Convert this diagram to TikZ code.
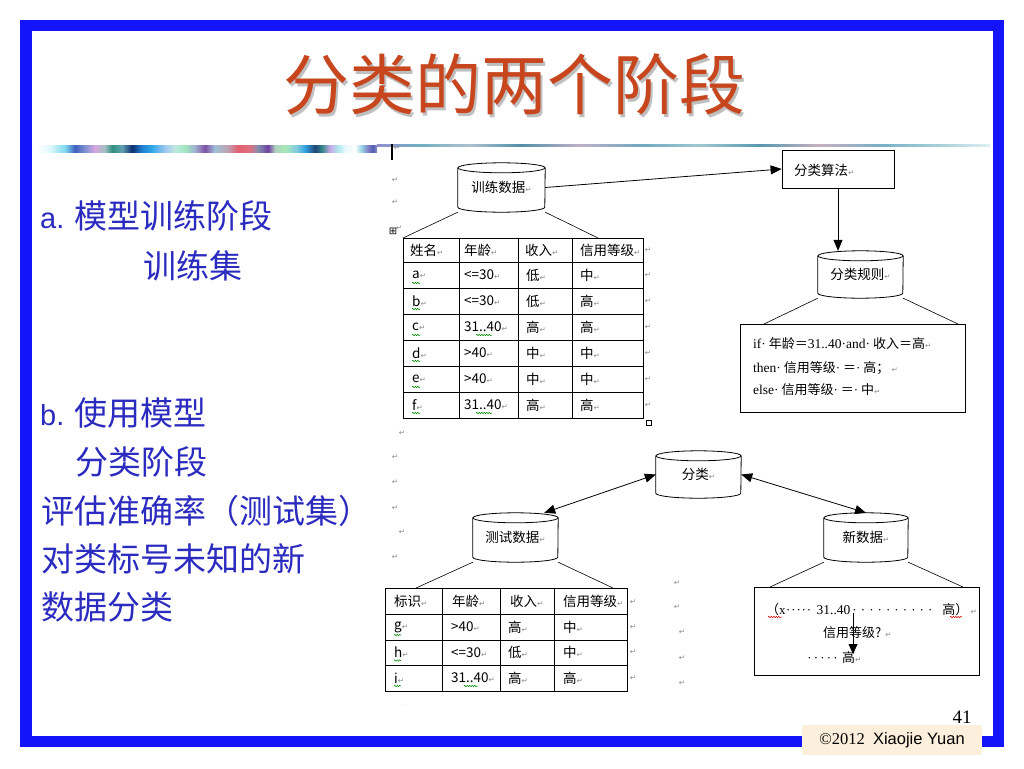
\documentclass[tikz,border=0pt]{standalone}
\usepackage{fontspec}
\setmainfont{Liberation Serif}
\newfontfamily\cjk{Noto Sans CJK SC}
\newfontfamily\dejavu{DejaVu Sans}
\newfontfamily\arial{Liberation Sans}
\usetikzlibrary{arrows.meta,decorations.pathmorphing}
\definecolor{frameblue}{HTML}{1414FA}
\definecolor{titlered}{HTML}{C8461E}
\definecolor{txtblue}{HTML}{2B2BC0}
\definecolor{pmgray}{HTML}{8C8C8C}
\definecolor{footbg}{HTML}{FCEFDB}
\newcommand\pmk{{\dejavu\fontsize{7.5}{7.5}\selectfont\textcolor{pmgray}{↵}}}
\newcommand\sdots[2]{\makebox[#1pt]{\rmfamily\leaders\hbox to #2pt{\hss·\hss}\hfill}}
\newcommand\cylnode[6]{%
  \node[dtext, minimum width=#4, minimum height=#5] (#1) at (#2,#3) {\raisebox{-3pt}{#6}};
  \draw[line width=0.8pt] ([yshift=-5pt]#1.north) ellipse [x radius=#4/2, y radius=5];
  \draw[line width=0.8pt] ([yshift=-5pt]#1.north west) -- ([yshift=5pt]#1.south west)
     arc [start angle=180, end angle=0, x radius=#4/2, y radius=5] -- ([yshift=-5pt]#1.north east);
}
\tikzset{
  dtext/.style={font=\cjk\fontsize{13.5}{13.5}\selectfont, inner sep=0pt},
  ttext/.style={font=\cjk\fontsize{13}{13}\selectfont, inner sep=0pt, anchor=west},
  boxd/.style={draw, line width=0.8pt, inner sep=0pt},
  conn/.style={line width=0.6pt},
  arr/.style={line width=0.8pt, -{Triangle[length=11pt,width=9pt]}},
  darr/.style={line width=0.8pt, {Triangle[length=11pt,width=9pt]}-{Triangle[length=11pt,width=9pt]}},
  lefttxt/.style={text=txtblue, font=\cjk\fontsize{33}{33}\selectfont, inner sep=0pt, anchor=west},
  pmark/.style={font=\dejavu\fontsize{7.5}{7.5}\selectfont, text=pmgray, inner sep=0pt},
  spellg/.style={green!55!black, line width=0.5pt, decorate, decoration={snake, amplitude=0.8pt, segment length=2.5pt}},
  spellr/.style={red!80!black, line width=0.5pt, decorate, decoration={snake, amplitude=0.8pt, segment length=2.5pt}},
}
\begin{document}
\begin{tikzpicture}[x=1pt,y=-1pt]
\useasboundingbox (0,0) rectangle (1024,768);
\fill[white] (0,0) rectangle (1024,768);

% decorative stripe
\foreach \x/\c [remember=\x as \px (initially 37), remember=\c as \pc (initially FFFFFF)] in
 {50/E0F8FC, 65/7FD8F0, 75/4060C0, 85/8090D0, 95/D8A8E0, 105/A0C0C0, 112/309080, 122/60A0B0,
  132/103070, 142/2080D0, 152/30A8E8, 165/A0C8F0, 175/C0E8E0, 185/A0E8C0, 195/A0B0D0, 205/8050A8,
  215/A0C0D8, 228/C0A0B0, 238/E06070, 250/E07080, 258/8090B0, 268/7040A0, 275/B0D0C0, 285/A8E8B8,
  297/80C8E0, 305/30A0E0, 315/204878, 322/308888, 330/C8A8E8, 338/B0E8F0, 345/E8F8FC, 355/FFFFFF,
  362/90D0E0, 368/8080C8, 373/5060B0, 377/9090D0}
{
  \definecolor{ca}{HTML}{\pc}\definecolor{cb}{HTML}{\c}
  \shade[left color=ca, right color=cb] (\px,145) rectangle (\x,152);
}
\foreach \x/\c [remember=\x as \px (initially 377), remember=\c as \pc (initially 9090D0)] in
 {420/70B0C0, 470/B0C0D0, 520/5090A8, 580/C0B0C8, 640/70A8C0, 700/A0C8D0, 760/5898B0, 820/C8B0C0,
  880/78B0C8, 940/A8D0D8, 990/E0F0F4}
{
  \definecolor{ca}{HTML}{\pc}\definecolor{cb}{HTML}{\c}
  \shade[left color=ca, right color=cb] (\px,144.5) rectangle (\x,146.5);
}

% blue frame
\draw[frameblue, line width=11.5pt] (25.75,25.75) rectangle (998.25,741.25);

% title (with its shadow in the same node)
\node[text=titlered, font=\cjk\fontsize{66}{66}\selectfont, inner sep=0pt] (title) at (514,86)
  {\rlap{\hspace{2.5pt}\raisebox{-2.5pt}{\textcolor{black!25}{分类的两个阶段}}}分类的两个阶段};

% left text
\node[lefttxt] (la) at (40,216) {{\arial\fontsize{29}{29}\selectfont a.} 模型训练阶段};
\node[lefttxt] (la2) at (143,266) {训练集};
\node[lefttxt] (lb) at (40,413) {{\arial\fontsize{29}{29}\selectfont b.} 使用模型};
\node[lefttxt] (lb2) at (75,462) {分类阶段};
\node[lefttxt] (lb3) at (41,511) {评估准确率（测试集）};
\node[lefttxt] (lb4) at (41,559) {对类标号未知的新};
\node[lefttxt] (lb5) at (41,607) {数据分类};

% ---------- diagram ----------
\draw[line width=1.6pt] (392,144) -- (392,160);
\foreach \x/\y [count=\k] in {397/148, 395/180, 395/202, 402/433, 395/457, 395/482, 395/508, 402/532, 395/557,
  677/583, 677/607, 682/632, 682/658, 682/683}
  \node[pmark] (pm\k) at (\x,\y) {↵};
\node[font=\dejavu\fontsize{10}{10}\selectfont, inner sep=0pt] (tabsym) at (393,231) {⊞};
\node[pmark] (pmsym) at (399,228) {↵};
\draw[line width=0.6pt] (646,420) rectangle (651,425);

% training data
\cylnode{trd}{501.5}{187.5}{87}{49}{训练数据\pmk}
\node[boxd, minimum width=112, minimum height=38] (alg) at (838,169) {};
\node[dtext, anchor=west] (algt) at (794,170) {分类算法\pmk};
\draw[arr] (trd.east) -- (alg.west);
\cylnode{rule}{860.5}{274.5}{85}{47}{分类规则\pmk}
\draw[arr] (alg.south) -- (alg.south |- rule.north);

% rule box
\node[boxd, minimum width=225, minimum height=88] (rbox) at (852.5,368) {};
\coordinate (rb1) at (764,324);
\coordinate (rb2) at (958,324);
\draw[conn] (rule.south west) -- (rb1);
\draw[conn] (rule.south east) -- (rb2);
\node[ttext] (rl1) at (753,344) {{\rmfamily\fontsize{13.5}{13.5}\selectfont if·} 年龄＝{\rmfamily\fontsize{13.5}{13.5}\selectfont 31..40·and·} 收入＝高\pmk};
\node[ttext] (rl2) at (753,368.5) {{\rmfamily\fontsize{13.5}{13.5}\selectfont then·} 信用等级{\rmfamily ·} ＝{\rmfamily ·} 高；\,\pmk};
\node[ttext] (rl3) at (753,390) {{\rmfamily\fontsize{13.5}{13.5}\selectfont else·} 信用等级{\rmfamily ·} ＝{\rmfamily ·} 中\pmk};

% table 1
\node[boxd, minimum width=240, minimum height=180] (tab1) at (523,328) {};
\coordinate (t1l) at (403,238);
\coordinate (t1r) at (598,238);
\draw[conn] (trd.south west) -- (t1l);
\draw[conn] (trd.south east) -- (t1r);
\foreach \yy in {262,288,...,392} \draw[line width=0.8pt] (403,\yy) -- (643,\yy);
\foreach \xx in {459,518,572} \draw[line width=0.8pt] (\xx,238) -- (\xx,418);
\foreach \t/\x [count=\k] in {姓名/410, 年龄/464, 收入/525, 信用等级/580}
  \node[dtext, anchor=west] (h1-\k) at (\x,250) {\t\pmk};
\node[pmark] (h1m) at (648,250) {↵};
\foreach \n/\ag/\inc/\cr [count=\i] in {a/{<=30}/低/中, b/{<=30}/低/高, c/{31..40}/高/高, d/{>40}/中/中, e/{>40}/中/中, f/{31..40}/高/高}
{
  \pgfmathsetmacro\yy{275+26*(\i-1)}
  \node[dtext, anchor=west] (r1-\i-1) at (412,\yy) {\n\pmk};
  \node[dtext, anchor=west] (r1-\i-2) at (464,\yy) {\ag\pmk};
  \node[dtext, anchor=west] (r1-\i-3) at (526,\yy) {\inc\pmk};
  \node[dtext, anchor=west] (r1-\i-4) at (580,\yy) {\cr\pmk};
  \node[pmark] (r1-\i-m) at (648,\yy) {↵};
  \draw[spellg] (412,\yy+8) -- (420,\yy+8);
}
\draw[spellg] (476,335) -- (492,335);
\draw[spellg] (476,413) -- (492,413);

% classification
\cylnode{cls}{698.5}{474.5}{85}{47}{分类\pmk}
\cylnode{test}{515.5}{537.5}{85}{49}{测试数据\pmk}
\cylnode{new}{866}{537.5}{84}{49}{新数据\pmk}
\draw[darr] (cls.west) -- ([xshift=-14pt]test.north east);
\draw[darr] (cls.east) -- (new.north);

% table 2
\node[boxd, minimum width=242, minimum height=103] (tab2) at (506,639.5) {};
\coordinate (t2l) at (416,588);
\coordinate (t2r) at (613,588);
\draw[conn] (test.south west) -- (t2l);
\draw[conn] (test.south east) -- (t2r);
\foreach \yy in {614,640,665} \draw[line width=0.8pt] (385,\yy) -- (627,\yy);
\foreach \xx in {442,500,554} \draw[line width=0.8pt] (\xx,588) -- (\xx,691);
\foreach \t/\x [count=\k] in {标识/394, 年龄/452, 收入/510, 信用等级/563}
  \node[dtext, anchor=west] (h2-\k) at (\x,601) {\t\pmk};
\node[pmark] (h2m) at (633,602) {↵};
\foreach \n/\ag/\inc/\cr/\yy [count=\i] in {g/{>40}/高/中/627, h/{<=30}/低/中/652.5, i/{31..40}/高/高/678}
{
  \node[dtext, anchor=west] (r2-\i-1) at (394,\yy) {\n\pmk};
  \node[dtext, anchor=west] (r2-\i-2) at (451,\yy) {\ag\pmk};
  \node[dtext, anchor=west] (r2-\i-3) at (508,\yy) {\inc\pmk};
  \node[dtext, anchor=west] (r2-\i-4) at (563,\yy) {\cr\pmk};
  \node[pmark] (r2-\i-m) at (633,\yy) {↵};
  \draw[spellg] (394,\yy+8) -- (401,\yy+8);
}
\draw[spellg] (464,686) -- (478,686);
\node[font=\fontsize{5}{5}\selectfont, text=pmgray, inner sep=0pt] (dotb) at (403,705) {.};

% new data box
\node[boxd, minimum width=225, minimum height=88] (nbox) at (866.5,631) {};
\coordinate (nb1) at (770,587);
\coordinate (nb2) at (963,587);
\draw[conn] (new.south west) -- (nb1);
\draw[conn] (new.south east) -- (nb2);
\node[ttext] (nl1) at (766,610)
  {（{\rmfamily x}\sdots{31}{5.2}{\rmfamily\fontsize{13.5}{13.5}\selectfont 31..40}\sdots{92}{8.4}高）\,\pmk};
\draw[spellr] (768,617) -- (782,617);
\draw[spellr] (950,617) -- (962,617);
\node[ttext] (nl2) at (823,633) {信用等级? \pmk};
\node[ttext] (nl3) at (806,658) {\sdots{36}{6.5}高\pmk};
\coordinate (qa) at (853,613);
\coordinate (qb) at (853,654);
\draw[line width=0.8pt, -{Triangle[length=10pt,width=9pt]}] (qa) -- (qb);

% footer
\node[fill=footbg, minimum width=180, minimum height=30, inner sep=0pt] (foot) at (892,740)
  {\fontsize{16.5}{16.5}\selectfont ©2012\ \ {\arial Xiaojie Yuan}};
\node[inner sep=0pt, font=\fontsize{19}{19}\selectfont] (pgno) at (962,717) {41};
\end{tikzpicture}
\end{document}
